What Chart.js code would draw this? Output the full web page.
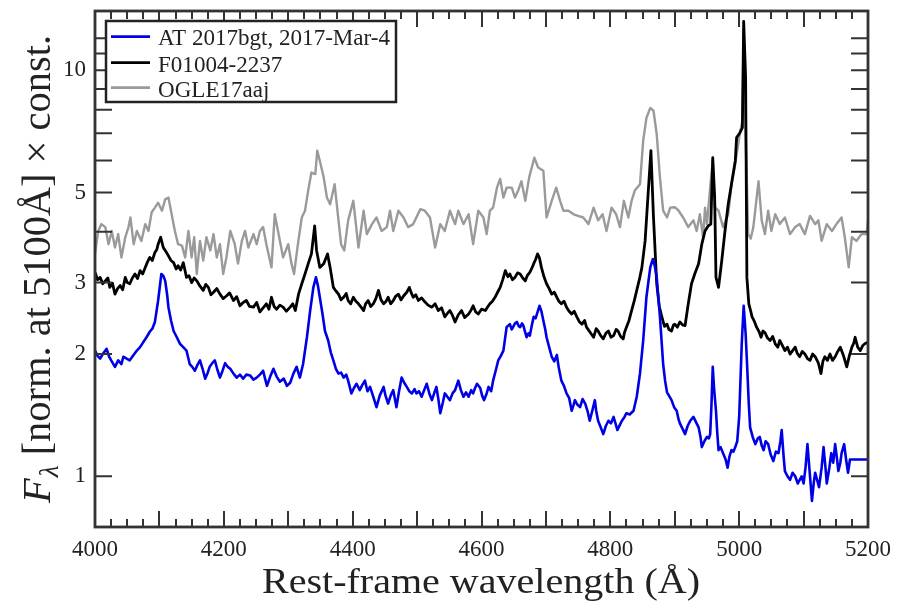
<!DOCTYPE html>
<html>
<head>
<meta charset="utf-8">
<script src="https://cdn.jsdelivr.net/npm/chart.js@4.4.1/dist/chart.umd.min.js"></script>
<style>
html,body{margin:0;padding:0;background:#fff;}
#wrap{width:897px;height:601px;position:relative;}
</style>
</head>
<body>
<div id="wrap"><canvas id="c" width="897" height="601"></canvas></div>
<script>
// ---------------- data ----------------
const seriesNames = ['AT 2017bgt, 2017-Mar-4', 'F01004-2237', 'OGLE17aaj'];
const seriesColors = ['#0000e6', '#000000', '#9a9a9a'];

const xTickLabels = [4000, 4200, 4400, 4600, 4800, 5000, 5200];
const yTickLabels = [1, 2, 3, 5, 10];
const yMinorTicks = [1, 2, 3, 4, 5, 6, 7, 8, 9, 10, 11, 12];

const blueWave = [4000,4004,4008,4013,4018,4022,4026,4031,4036,4041,4044,4049,4054,4059,4065,4070,4075,4080,4085,4089,4093,4098,4103,4106,4109,4112,4114,4118,4122,4127,4132,4137,4142,4145,4147,4151,4155,4159,4163,4167,4171,4175,4178,4182,4186,4190,4194,4198,4202,4206,4210,4215,4220,4225,4230,4235,4241,4246,4251,4256,4261,4264,4267,4272,4277,4282,4287,4293,4298,4303,4308,4313,4318,4323,4329,4334,4339,4343,4346,4349,4353,4357,4362,4366,4370,4374,4378,4382,4386,4390,4393,4398,4402,4406,4411,4415,4419,4423,4427,4432,4437,4442,4448,4451,4455,4459,4463,4468,4472,4476,4480,4484,4488,4492,4496,4499,4503,4507,4511,4515,4519,4523,4527,4530,4533,4536,4540,4543,4547,4551,4555,4559,4564,4568,4572,4576,4580,4584,4587,4590,4593,4598,4601,4604,4608,4611,4615,4618,4622,4626,4630,4634,4639,4644,4647,4649,4652,4655,4658,4660,4663,4665,4668,4670,4673,4675,4678,4681,4684,4686,4690,4693,4696,4699,4701,4705,4709,4713,4717,4720,4724,4728,4732,4736,4740,4743,4745,4749,4753,4757,4761,4765,4768,4772,4776,4778,4781,4785,4789,4793,4797,4801,4805,4808,4811,4815,4818,4822,4825,4830,4836,4841,4846,4851,4856,4862,4866,4869,4872,4877,4882,4885,4888,4891,4895,4899,4903,4906,4908,4912,4916,4920,4924,4929,4933,4937,4940,4942,4946,4950,4953,4955,4957,4959,4961,4964,4966,4968,4971,4975,4979,4982,4985,4988,4991,4994,4997,5000,5004,5007,5010,5012,5015,5017,5021,5025,5029,5032,5035,5038,5041,5045,5049,5053,5057,5061,5064,5066,5069,5071,5075,5079,5083,5087,5091,5094,5097,5100,5103,5106,5110,5113,5116,5118,5121,5124,5128,5131,5134,5136,5140,5143,5146,5149,5152,5154,5157,5159,5161,5163,5166,5169,5172,5200];
const blueFlux = [2.04,1.98,1.95,2.01,2.06,1.97,1.92,1.86,1.93,1.89,1.97,1.95,1.93,1.98,2.04,2.08,2.14,2.20,2.27,2.31,2.40,2.71,3.15,3.12,3.03,2.80,2.61,2.42,2.28,2.20,2.12,2.08,2.04,1.95,1.89,1.86,1.82,1.88,1.93,1.84,1.74,1.80,1.86,1.90,1.93,1.83,1.75,1.82,1.90,1.86,1.84,1.79,1.75,1.78,1.74,1.78,1.77,1.73,1.75,1.78,1.82,1.74,1.67,1.76,1.84,1.76,1.71,1.74,1.67,1.70,1.79,1.86,1.75,1.89,2.20,2.56,2.92,3.09,2.95,2.76,2.52,2.28,2.16,2.02,1.93,1.84,1.79,1.80,1.75,1.78,1.72,1.60,1.65,1.69,1.63,1.68,1.72,1.62,1.66,1.57,1.48,1.58,1.66,1.58,1.51,1.58,1.63,1.48,1.62,1.75,1.70,1.66,1.62,1.60,1.64,1.60,1.62,1.57,1.63,1.69,1.60,1.54,1.61,1.66,1.55,1.43,1.52,1.60,1.57,1.54,1.60,1.63,1.72,1.63,1.57,1.61,1.57,1.63,1.60,1.65,1.69,1.65,1.58,1.54,1.60,1.66,1.62,1.72,1.82,1.93,1.98,2.04,2.33,2.37,2.30,2.33,2.38,2.40,2.34,2.33,2.38,2.35,2.26,2.20,2.25,2.22,2.35,2.47,2.45,2.51,2.63,2.55,2.42,2.30,2.20,2.08,1.97,1.92,1.99,1.85,1.72,1.67,1.60,1.56,1.45,1.50,1.54,1.50,1.48,1.55,1.51,1.44,1.37,1.45,1.54,1.45,1.37,1.32,1.27,1.33,1.37,1.35,1.40,1.35,1.30,1.34,1.37,1.40,1.43,1.42,1.45,1.57,1.79,2.16,2.76,3.27,3.43,3.30,3.09,2.47,1.89,1.72,1.61,1.58,1.54,1.48,1.45,1.38,1.35,1.31,1.27,1.33,1.37,1.40,1.36,1.32,1.25,1.18,1.22,1.25,1.24,1.27,1.50,1.86,1.65,1.45,1.28,1.16,1.18,1.14,1.10,1.05,1.12,1.16,1.15,1.18,1.22,1.40,2.12,2.63,2.25,1.93,1.50,1.32,1.25,1.20,1.24,1.25,1.19,1.16,1.22,1.20,1.13,1.09,1.15,1.14,1.22,1.30,1.12,1.03,1.00,0.98,1.02,1.00,0.96,0.98,1.00,0.96,1.05,1.20,1.00,0.87,0.97,1.02,0.98,0.94,1.05,1.18,1.05,0.96,1.05,1.14,1.08,1.20,1.10,1.03,1.08,1.14,1.17,1.20,1.10,1.02,1.10,1.10];

const blackWave = [4000,4004,4008,4012,4016,4020,4023,4027,4031,4035,4039,4043,4047,4050,4054,4058,4062,4066,4070,4074,4078,4081,4085,4089,4093,4096,4098,4102,4106,4110,4114,4118,4122,4126,4129,4133,4137,4140,4142,4146,4150,4154,4158,4163,4168,4172,4176,4180,4184,4189,4194,4199,4204,4209,4215,4220,4225,4230,4235,4240,4246,4251,4256,4261,4266,4270,4274,4278,4282,4287,4292,4297,4303,4307,4311,4316,4321,4326,4331,4336,4341,4344,4349,4355,4361,4365,4370,4374,4378,4382,4386,4390,4393,4397,4401,4405,4409,4413,4417,4420,4424,4428,4432,4436,4440,4444,4448,4452,4455,4459,4463,4467,4471,4475,4479,4484,4488,4491,4494,4498,4502,4507,4512,4517,4523,4528,4533,4538,4543,4547,4551,4555,4559,4564,4569,4574,4580,4584,4587,4591,4595,4600,4606,4610,4613,4617,4621,4625,4629,4633,4637,4641,4644,4648,4652,4656,4660,4664,4668,4671,4675,4678,4681,4684,4687,4690,4693,4697,4701,4705,4709,4713,4717,4720,4724,4728,4732,4736,4740,4744,4748,4752,4756,4760,4763,4768,4774,4778,4781,4785,4789,4793,4797,4801,4805,4809,4812,4816,4820,4822,4825,4829,4833,4837,4841,4845,4849,4854,4859,4863,4867,4872,4876,4880,4884,4888,4891,4895,4898,4900,4904,4908,4912,4916,4921,4926,4931,4937,4942,4947,4952,4956,4959,4962,4964,4968,4973,4978,4983,4988,4994,4996,5001,5005,5007,5010,5012,5015,5018,5020,5024,5027,5031,5034,5037,5040,5044,5048,5052,5056,5060,5063,5067,5071,5075,5079,5083,5087,5090,5094,5098,5102,5106,5110,5114,5118,5123,5127,5130,5133,5137,5141,5145,5149,5153,5157,5162,5167,5171,5175,5178,5180,5184,5188,5192,5195,5200];
const blackFlux = [3.18,3.05,3.09,2.98,3.03,3.08,2.92,2.99,2.81,2.90,2.95,2.88,3.09,3.00,2.98,3.08,3.15,3.07,3.21,3.15,3.27,3.36,3.46,3.40,3.56,3.62,3.73,3.88,3.66,3.58,3.49,3.40,3.36,3.24,3.30,3.22,3.36,3.20,3.09,3.12,3.00,3.08,3.03,2.94,2.87,2.97,2.92,2.80,2.84,2.90,2.81,2.74,2.78,2.83,2.71,2.77,2.63,2.68,2.71,2.62,2.61,2.68,2.54,2.60,2.66,2.58,2.76,2.62,2.58,2.64,2.61,2.55,2.61,2.66,2.56,2.81,2.98,3.15,3.34,3.53,4.14,3.60,3.27,3.34,3.53,3.27,2.92,2.86,2.81,2.72,2.76,2.82,2.71,2.66,2.76,2.70,2.66,2.61,2.56,2.66,2.71,2.62,2.66,2.74,2.87,2.72,2.66,2.70,2.76,2.66,2.71,2.78,2.81,2.72,2.78,2.84,2.92,2.83,2.76,2.80,2.71,2.75,2.69,2.64,2.61,2.66,2.56,2.60,2.47,2.52,2.56,2.49,2.40,2.50,2.56,2.46,2.51,2.57,2.63,2.54,2.51,2.58,2.56,2.62,2.66,2.70,2.76,2.84,2.92,3.05,3.21,3.10,3.15,3.05,3.09,3.17,3.15,3.08,3.03,3.12,3.18,3.25,3.34,3.42,3.53,3.45,3.27,3.10,2.98,2.90,2.81,2.84,2.76,2.70,2.66,2.70,2.61,2.55,2.51,2.55,2.47,2.40,2.37,2.42,2.33,2.27,2.20,2.31,2.28,2.22,2.18,2.25,2.28,2.20,2.22,2.30,2.28,2.21,2.18,2.26,2.33,2.42,2.56,2.70,2.87,3.05,3.27,3.80,5.06,6.34,4.34,2.98,2.62,2.47,2.34,2.37,2.30,2.28,2.36,2.37,2.33,2.40,2.36,2.35,2.66,2.98,3.15,3.34,3.73,4.02,4.14,4.18,6.09,4.86,3.09,2.92,3.40,4.02,4.68,5.24,5.99,6.83,7.01,7.22,13.2,9.6,3.09,2.66,2.55,2.47,2.40,2.33,2.27,2.20,2.28,2.26,2.19,2.16,2.21,2.12,2.08,2.16,2.10,2.04,2.08,2.00,2.04,2.08,2.01,1.97,2.03,2.00,1.95,1.93,2.00,1.97,1.90,1.79,1.92,1.97,1.93,2.00,1.93,1.97,2.03,2.08,1.98,1.86,1.98,2.08,2.13,2.20,2.08,2.04,2.10,2.12,2.14];

const grayWave = [4000,4005,4010,4016,4021,4026,4031,4036,4041,4047,4052,4055,4060,4065,4072,4078,4083,4088,4093,4098,4104,4109,4114,4119,4124,4129,4135,4140,4145,4150,4154,4158,4163,4168,4173,4179,4184,4189,4194,4199,4204,4210,4217,4222,4228,4233,4238,4246,4251,4256,4261,4266,4274,4279,4285,4292,4300,4305,4309,4315,4321,4326,4331,4336,4342,4345,4349,4355,4360,4365,4372,4377,4382,4387,4393,4401,4409,4417,4422,4430,4437,4445,4453,4458,4463,4471,4479,4486,4494,4505,4512,4520,4528,4536,4543,4551,4559,4564,4572,4580,4587,4595,4603,4608,4613,4618,4624,4629,4634,4639,4647,4652,4657,4662,4668,4674,4682,4688,4696,4701,4709,4716,4722,4727,4735,4743,4750,4758,4766,4774,4781,4788,4794,4802,4809,4815,4821,4828,4833,4838,4846,4851,4856,4862,4867,4872,4877,4882,4888,4893,4900,4906,4913,4921,4929,4934,4939,4944,4947,4950,4955,4959,4962,4968,4975,4983,4988,4994,5001,5005,5007,5010,5014,5018,5022,5030,5035,5040,5045,5050,5056,5063,5071,5079,5087,5094,5102,5110,5118,5123,5128,5136,5144,5151,5159,5164,5170,5175,5182,5190,5198,5200];
const grayFlux = [3.53,4.02,4.18,4.11,3.73,4.02,3.66,3.95,3.46,3.88,4.11,4.34,3.73,4.02,3.80,4.18,4.02,4.47,4.59,4.72,4.51,4.81,4.86,4.42,4.02,3.73,3.70,3.46,4.02,3.46,3.88,3.15,3.80,3.40,3.88,3.60,3.95,3.46,3.73,3.15,3.46,4.02,3.73,3.34,3.80,4.02,3.66,3.95,3.73,4.02,4.11,3.73,3.27,4.42,3.95,3.46,3.73,3.34,3.15,3.73,4.34,4.51,5.06,5.60,5.55,6.34,5.99,5.45,4.86,4.68,5.24,4.42,3.73,3.60,4.27,4.77,3.66,4.51,3.95,4.18,4.34,4.02,4.11,4.51,4.02,4.51,4.34,4.11,4.18,4.55,4.51,4.34,3.66,4.18,4.02,4.51,4.18,4.51,4.18,4.42,3.73,4.51,4.34,3.95,4.51,4.59,5.14,5.40,4.86,5.14,5.14,4.86,5.06,5.33,4.77,5.45,6.09,5.76,5.66,4.34,4.77,5.14,4.77,4.51,4.51,4.42,4.38,4.34,4.18,4.59,4.27,4.42,4.02,4.59,4.42,4.11,4.77,4.34,4.77,5.06,5.24,6.71,7.63,8.08,7.95,6.96,5.45,4.51,4.34,4.59,4.60,4.51,4.34,4.11,4.27,4.02,4.42,3.88,4.59,4.18,5.14,6.00,4.60,4.51,4.11,4.42,5.20,5.90,7.00,7.50,12.5,7.00,3.95,3.85,4.11,5.33,4.27,3.95,4.51,4.02,4.42,4.18,4.34,3.95,4.11,4.18,3.95,4.38,4.18,4.27,3.80,4.18,4.02,4.18,4.34,3.88,3.27,3.88,3.80,3.95,3.95,4.27];

// --------------- helpers ----------------
function pairs(w, f) { return w.map((v, i) => ({ x: v, y: f[i] })); }

const FONT = "'Liberation Serif', 'Times New Roman', serif";
const TEXT = '#222';
const AXIS = '#333';

const decorPlugin = {
  id: 'decor',
  afterDraw(chart) {
    const { ctx, chartArea: a, scales } = chart;
    const xs = scales.x, ys = scales.y;
    ctx.save();
    // inward ticks
    ctx.strokeStyle = AXIS;
    ctx.lineWidth = 2;
    ctx.beginPath();
    for (let v = xs.min; v <= xs.max + 0.001; v += 25) {
      const px = Math.round(xs.getPixelForValue(v));
      const L = (Math.round(v) % 100 === 0) ? 16 : 8;
      ctx.moveTo(px, a.bottom); ctx.lineTo(px, a.bottom - L);
      ctx.moveTo(px, a.top); ctx.lineTo(px, a.top + L);
    }
    for (const v of yMinorTicks) {
      const py = ys.getPixelForValue(v);
      ctx.moveTo(a.left, py); ctx.lineTo(a.left + 17, py);
      ctx.moveTo(a.right, py); ctx.lineTo(a.right - 17, py);
    }
    ctx.stroke();
    // frame
    ctx.lineWidth = 2.8;
    ctx.strokeRect(a.left, a.top, a.right - a.left, a.bottom - a.top);

    // legend
    const lx = 106, ly = 21, lw = 290, lh = 81;
    ctx.fillStyle = '#fff';
    ctx.fillRect(lx, ly, lw, lh);
    ctx.strokeStyle = '#222';
    ctx.lineWidth = 2.5;
    ctx.strokeRect(lx, ly, lw, lh);
    const lineY = [36.7, 62.7, 87.7];
    const baseY = [45, 71.5, 96.5];
    ctx.font = '22.5px ' + FONT;
    const w0 = ctx.measureText(seriesNames[0]).width;
    const ls = 232 / w0;
    seriesNames.forEach((name, i) => {
      ctx.strokeStyle = seriesColors[i];
      ctx.lineWidth = 2.7;
      ctx.beginPath();
      ctx.moveTo(111, lineY[i]); ctx.lineTo(150, lineY[i]);
      ctx.stroke();
      ctx.save();
      ctx.translate(158, baseY[i]);
      ctx.scale(ls, 1);
      ctx.fillStyle = TEXT;
      ctx.textBaseline = 'alphabetic';
      ctx.textAlign = 'left';
      ctx.fillText(name, 0, 0);
      ctx.restore();
    });

    // x title
    ctx.save();
    ctx.font = '35px ' + FONT;
    const xt = 'Rest-frame wavelength (Å)';
    const xw = ctx.measureText(xt).width;
    ctx.translate(481, 593);
    ctx.scale(438 / xw, 1);
    ctx.fillStyle = TEXT;
    ctx.textAlign = 'center';
    ctx.textBaseline = 'alphabetic';
    ctx.fillText(xt, 0, 0);
    ctx.restore();

    // y title (rotated)
    ctx.save();
    const big = 40, sub = 27;
    const fIt = 'italic ' + big + 'px ' + FONT;
    const fSub = 'italic ' + sub + 'px ' + FONT;
    const fReg = big + 'px ' + FONT;
    const rest = ' [norm. at 5100Å] × const.';
    ctx.font = fIt; const w1 = ctx.measureText('F').width;
    ctx.font = fSub; const w2 = ctx.measureText('λ').width;
    ctx.font = fReg; const w3 = ctx.measureText(rest).width;
    const tot = w1 + 1 + w2 + w3;
    ctx.translate(50, 503);
    ctx.rotate(-Math.PI / 2);
    ctx.scale(468 / tot, 1);
    ctx.fillStyle = TEXT;
    ctx.textAlign = 'left';
    ctx.textBaseline = 'alphabetic';
    ctx.font = fIt; ctx.fillText('F', 0, 0);
    ctx.font = fSub; ctx.fillText('λ', w1 + 1, 8);
    ctx.font = fReg; ctx.fillText(rest, w1 + 1 + w2, 0);
    ctx.restore();

    ctx.restore();
  }
};

const widths = [2.6, 2.8, 2.4];
const ds = (w, f, i) => ({
  label: seriesNames[i],
  data: pairs(w, f),
  borderColor: seriesColors[i],
  backgroundColor: seriesColors[i],
  borderWidth: widths[i],
  pointRadius: 0,
  tension: 0,
  borderJoinStyle: 'round',
  fill: false
});

new Chart(document.getElementById('c'), {
  type: 'line',
  data: {
    datasets: [
      ds(blueWave, blueFlux, 0),
      ds(blackWave, blackFlux, 1),
      ds(grayWave, grayFlux, 2)
    ]
  },
  options: {
    responsive: false,
    animation: false,
    devicePixelRatio: 1,
    layout: { padding: { left: 0, right: 29, top: 11, bottom: 0 } },
    plugins: { legend: { display: false }, tooltip: { enabled: false } },
    scales: {
      x: {
        type: 'linear',
        min: 4000, max: 5200,
        grid: { display: false, drawTicks: false },
        border: { display: false },
        afterBuildTicks: (s) => { s.ticks = xTickLabels.map(v => ({ value: v })); },
        ticks: {
          padding: 9,
          maxRotation: 0,
          autoSkip: false,
          color: TEXT,
          font: { family: FONT, size: 23 },
          callback: (v) => String(v)
        },
        afterFit: (s) => { s.height = 74; s.paddingLeft = 0; s.paddingRight = 0; }
      },
      y: {
        type: 'logarithmic',
        min: 0.75, max: 14,
        grid: { display: false, drawTicks: false },
        border: { display: false },
        afterBuildTicks: (s) => { s.ticks = yTickLabels.map(v => ({ value: v })); },
        ticks: {
          padding: 9,
          autoSkip: false,
          color: TEXT,
          font: { family: FONT, size: 23 },
          callback: (v) => String(v)
        },
        afterFit: (s) => { s.width = 95; s.paddingTop = 0; s.paddingBottom = 0; }
      }
    }
  },
  plugins: [decorPlugin]
});
</script>
</body>
</html>
